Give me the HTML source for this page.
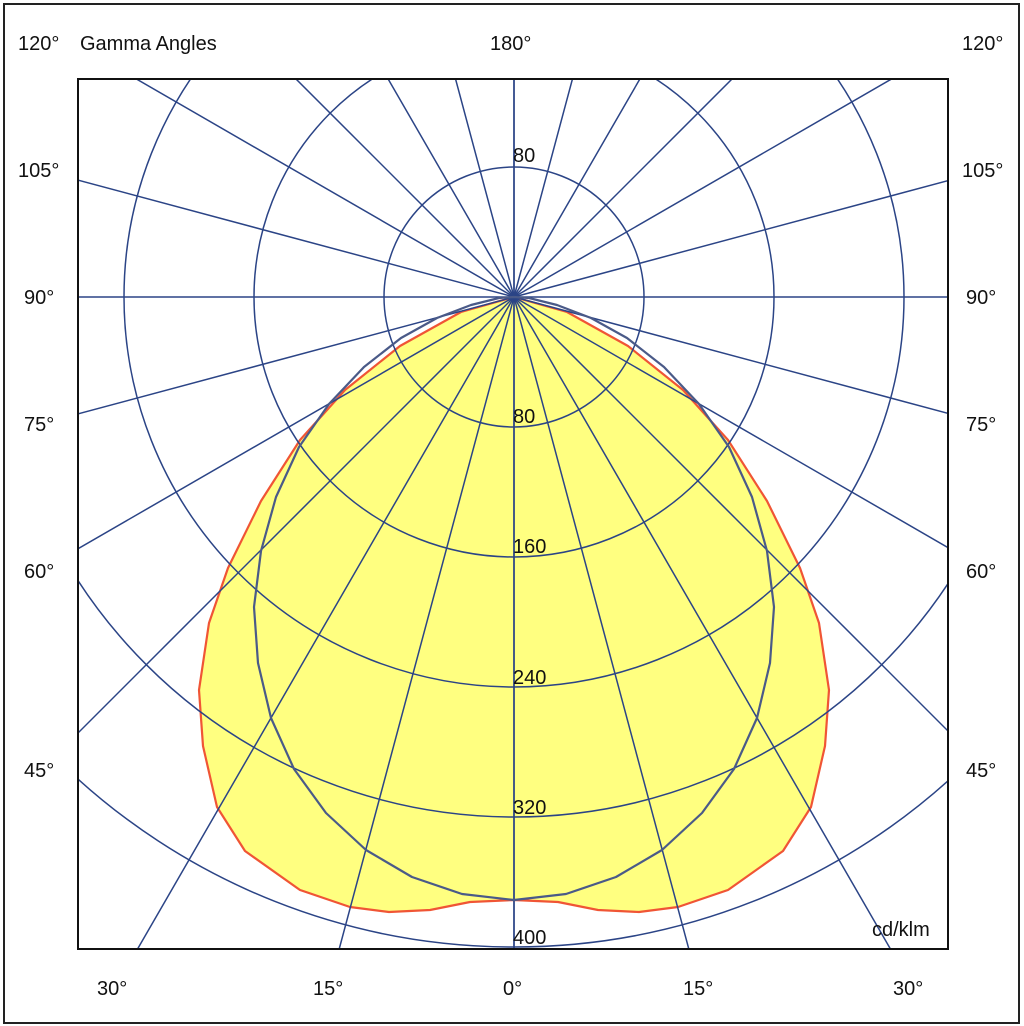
<!DOCTYPE html>
<html><head><meta charset="utf-8"><style>
html,body{margin:0;padding:0;background:#fff;width:1024px;height:1026px;overflow:hidden}
svg{display:block}
text{font-family:"Liberation Sans",Arial,sans-serif;font-size:20px;fill:#111}
</style></head><body>
<svg width="1024" height="1026" viewBox="0 0 1024 1026" xmlns="http://www.w3.org/2000/svg">
<defs><clipPath id="c"><rect x="78" y="79" width="870" height="870"/></clipPath></defs>
<rect x="4" y="4" width="1015" height="1019" fill="#fff" stroke="#222" stroke-width="2"/>
<g clip-path="url(#c)">
<polygon fill="#ffff80" stroke="#f05535" stroke-width="2.2" stroke-linejoin="round" points="514,297 461,312 400,346 345,390 300,440 261,501 228,568 209,623 199,690 203,746 217,807 245,851 300,890 350,907 389,912 430,910 470,902 514,900 558,902 598,910 639,912 678,907 728,890 783,851 811,807 825,746 829,690 819,623 800,568 767,501 728,440 683,390 628,346 567,312"/>
<g stroke="#2b4486" stroke-width="1.5" fill="none">
<circle cx="514" cy="297" r="130"/><circle cx="514" cy="297" r="260"/><circle cx="514" cy="297" r="390"/><circle cx="514" cy="297" r="520"/><circle cx="514" cy="297" r="650"/>
<g id="rays">
<line x1="514" y1="297" x2="514" y2="1297"/>
<line x1="514" y1="297" x2="773" y2="1263"/>
<line x1="514" y1="297" x2="1014" y2="1163"/>
<line x1="514" y1="297" x2="1221" y2="1004"/>
<line x1="514" y1="297" x2="1380" y2="797"/>
<line x1="514" y1="297" x2="1480" y2="556"/>
<line x1="514" y1="297" x2="1514" y2="297"/>
<line x1="514" y1="297" x2="1480" y2="38"/>
<line x1="514" y1="297" x2="1380" y2="-203"/>
<line x1="514" y1="297" x2="1221" y2="-410"/>
<line x1="514" y1="297" x2="1014" y2="-569"/>
<line x1="514" y1="297" x2="773" y2="-669"/>
<line x1="514" y1="297" x2="514" y2="-703"/>
</g>
<use href="#rays" transform="translate(1028,0) scale(-1,1)"/>
</g>
<polyline fill="none" stroke="#4a5a88" stroke-width="2.2" stroke-linejoin="round" points="514,297 499,298 471,305 437,318 401,338 364,367 329,404 299,447 276,497 261,551 254,607 258,663 271,718 294,769 326,813 366,850 412,877 462,894 514,900 566,894 616,877 662,850 702,813 734,769 757,718 770,663 774,607 767,551 752,497 729,447 699,404 664,367 627,338 591,318 557,305 529,298 514,297"/>
</g>
<rect x="78" y="79" width="870" height="870" fill="none" stroke="#111" stroke-width="2"/>
<text x="513" y="162">80</text>
<text x="513" y="423">80</text>
<text x="513" y="553">160</text>
<text x="513" y="684">240</text>
<text x="513" y="814">320</text>
<text x="513" y="944">400</text>
<text x="872" y="936">cd/klm</text>
<text x="18" y="50">120°</text>
<text x="80" y="50">Gamma Angles</text>
<text x="490" y="50">180°</text>
<text x="962" y="50">120°</text>
<text x="18" y="177">105°</text><text x="962" y="177">105°</text>
<text x="24" y="304">90°</text><text x="966" y="304">90°</text>
<text x="24" y="431">75°</text><text x="966" y="431">75°</text>
<text x="24" y="578">60°</text><text x="966" y="578">60°</text>
<text x="24" y="777">45°</text><text x="966" y="777">45°</text>
<text x="97" y="995">30°</text>
<text x="313" y="995">15°</text>
<text x="503" y="995">0°</text>
<text x="683" y="995">15°</text>
<text x="893" y="995">30°</text>
</svg>
</body></html>
